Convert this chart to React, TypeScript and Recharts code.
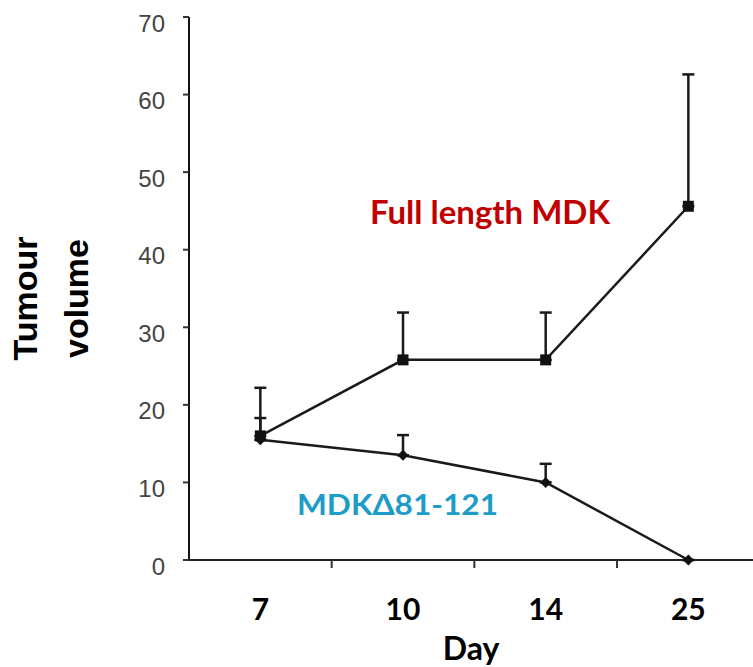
import React from 'react';
import { LineChart, Line, XAxis, YAxis, ErrorBar, Customized } from 'recharts';

const days = ['7', '10', '14', '25'];
const fullLength = [16, 25.8, 25.8, 45.6];
const fullLengthErr = [6.2, 6.1, 6.1, 17];
const mdkDelta = [15.5, 13.5, 10, 0];
const mdkDeltaErr = [2.8, 2.6, 2.4, 0];
const yTicks = [0, 10, 20, 30, 40, 50, 60, 70];
// labels sit in the middle of each day band, tick marks on the band edges
const xTicks = [0.5, 1, 1.5, 2, 2.5, 3, 3.5];

const data = days.map((day, i) => ({
  day,
  pos: i + 0.5,
  full: fullLength[i],
  fullErr: [0, fullLengthErr[i]],
  delta: mdkDelta[i],
  deltaErr: [0, mdkDeltaErr[i]],
}));

const labelFont = 'Lato, "Open Sans", sans-serif';

const DayTick = (props: any) => {
  const { x, y, payload } = props;
  const v = payload.value;
  if (Number.isInteger(v)) {
    return <line x1={x} y1={y} x2={x} y2={y + 8} stroke="#333" strokeWidth={2} />;
  }
  return (
    <text x={x} y={y + 60} textAnchor="middle" fontSize={30} fontWeight={700} fontFamily={labelFont} fill="#000">
      {days[Math.floor(v)]}
    </text>
  );
};

const SquareDot = (props: any) => {
  const { cx, cy } = props;
  if (cx == null || cy == null) return null;
  return <rect x={cx - 5.5} y={cy - 5.5} width={11} height={11} fill="#111" />;
};

const DiamondDot = (props: any) => {
  const { cx, cy } = props;
  if (cx == null || cy == null) return null;
  return <polygon points={`${cx},${cy - 5.5} ${cx + 5.5},${cy} ${cx},${cy + 5.5} ${cx - 5.5},${cy}`} fill="#111" />;
};

const YLabel = (props: any) => {
  const { viewBox } = props;
  const cy = viewBox.y + viewBox.height / 2 + 10;
  const font = { fontFamily: '"Liberation Sans", Arial, sans-serif', fontWeight: 700, fontSize: 34, fill: '#000' };
  return (
    <g>
      <text x={37} y={cy} transform={`rotate(-90, 37, ${cy})`} textAnchor="middle" {...font}>Tumour</text>
      <text x={88} y={cy} transform={`rotate(-90, 88, ${cy})`} textAnchor="middle" {...font}>volume</text>
    </g>
  );
};

const Annotations = () => (
  <g style={{ fontFamily: labelFont, fontWeight: 700 }}>
    <text x={370} y={224} fontSize={33} fill="#c00000" textLength={240} lengthAdjust="spacingAndGlyphs">Full length MDK</text>
    <text x={297} y={515} fontSize={28} fill="#1d9cc8" textLength={201} lengthAdjust="spacingAndGlyphs">MDKΔ81-121</text>
  </g>
);

const App = () => {
  return (
    <div style={{ position: 'absolute', left: 0, top: 0, width: 753, height: 667, background: '#fff', overflow: 'hidden' }}>
      <LineChart width={753} height={667} data={data} margin={{ top: 17, right: 0, bottom: 0, left: 0 }}>
        <XAxis
          dataKey="pos"
          type="number"
          domain={[0, 3.953]}
          allowDataOverflow
          ticks={xTicks}
          interval={0}
          height={107}
          tickSize={0}
          tickMargin={0}
          tickLine={false}
          tick={<DayTick />}
          axisLine={{ stroke: '#222', strokeWidth: 2 }}
          label={{ value: 'Day', position: 'insideBottom', offset: 7, fill: '#000', fontSize: 32, fontWeight: 700, fontFamily: labelFont }}
        />
        <YAxis
          domain={[0, 70]}
          ticks={yTicks}
          width={189}
          tickSize={6}
          tickMargin={18}
          axisLine={{ stroke: '#111', strokeWidth: 2 }}
          tickLine={{ stroke: '#333', strokeWidth: 2 }}
          tick={{ fill: '#444', fontSize: 24, dy: 6, fontFamily: '"Liberation Sans", Arial, sans-serif' }}
          label={(p: any) => <YLabel {...p} />}
        />
        <Line
          dataKey="delta"
          stroke="#1a1a1a"
          strokeWidth={2.5}
          dot={<DiamondDot />}
          activeDot={false}
          isAnimationActive={false}
        >
          <ErrorBar dataKey="deltaErr" direction="y" width={6} stroke="#1a1a1a" strokeWidth={2.5} />
        </Line>
        <Line
          dataKey="full"
          stroke="#1a1a1a"
          strokeWidth={2.5}
          dot={<SquareDot />}
          activeDot={false}
          isAnimationActive={false}
        >
          <ErrorBar dataKey="fullErr" direction="y" width={6} stroke="#1a1a1a" strokeWidth={2.5} />
        </Line>
        <Customized component={<Annotations />} />
      </LineChart>
    </div>
  );
};

export default App;
